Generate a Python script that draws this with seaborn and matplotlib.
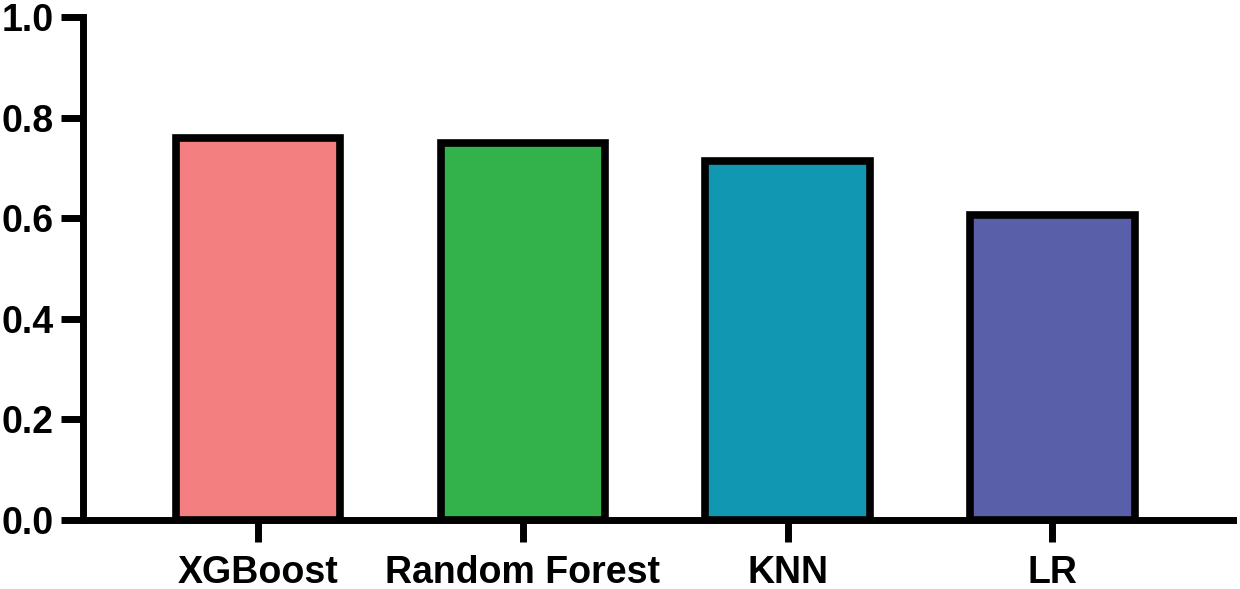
import numpy as np
import pandas as pd
import matplotlib
matplotlib.use('Agg')
import matplotlib.pyplot as plt
import seaborn as sns

sns.set_style('ticks')
plt.rcParams['font.family'] = ['Liberation Sans', 'DejaVu Sans']

models = ['XGBoost', 'Random Forest', 'KNN', 'LR']
scores = [0.759, 0.749, 0.714, 0.606]
colors = ['#F47F80', '#33B24B', '#1197B1', '#5A5FA9']

df = pd.DataFrame({'model': models, 'score': scores})

fig = plt.figure(figsize=(12.4, 5.89), dpi=100)
ax = fig.add_axes([0.067, 0.117, 0.927, 0.854])

sns.barplot(data=df, x='model', y='score', hue='model', palette=colors,
            legend=False, width=0.62, edgecolor='black', linewidth=5.5,
            saturation=1, ax=ax)

ax.set_ylim(0, 1.0)
ax.set_xlim(-0.66, 3.68)
ax.set_yticks([0.0, 0.2, 0.4, 0.6, 0.8, 1.0])
ax.set_yticklabels(['0.0', '0.2', '0.4', '0.6', '0.8', '1.0'])
ax.set_xlabel('')
ax.set_ylabel('')

for s in ['top', 'right']:
    ax.spines[s].set_visible(False)
for s in ['left', 'bottom']:
    ax.spines[s].set_linewidth(5)
    ax.spines[s].set_color('black')
    ax.spines[s].set_capstyle('projecting')

ax.tick_params(axis='both', width=5, length=16, labelsize=27, pad=5,
               color='black', labelcolor='black')
ax.tick_params(axis='x', pad=9)
for lab in ax.get_xticklabels() + ax.get_yticklabels():
    lab.set_fontweight('bold')

fig.savefig('out.png', dpi=100)
